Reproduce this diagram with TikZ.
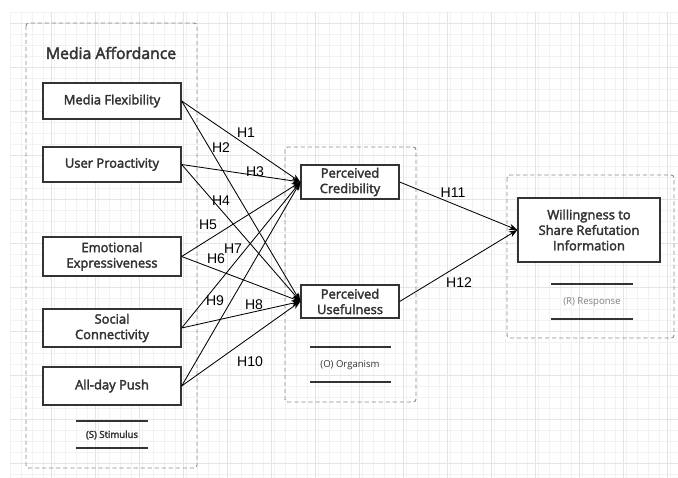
\documentclass[tikz,border=0pt]{standalone}
\usepackage{fontspec}
\setmainfont{Open Sans}
\newfontfamily\semibold{Open Sans}[FakeBold=2.6]
\newfontfamily\hfont{Liberation Sans}
\usetikzlibrary{positioning, arrows.meta, calc}

\definecolor{inkgray}{HTML}{333333}
\definecolor{dashgray}{HTML}{8C8C8C}
\definecolor{minorgrid}{HTML}{F2F2F2}
\definecolor{majorgrid}{HTML}{E4E4E4}

\begin{document}
\begin{tikzpicture}[x=0.025cm, y=-0.025cm,
	construct/.style={draw=inkgray, line width=0.9pt, fill=white, text=inkgray, font=\semibold\fontsize{9.2}{11}\selectfont, align=center, inner sep=0pt},
	stage/.style={draw=dashgray, dash pattern=on 3pt off 2pt, line width=0.7pt, rounded corners=2pt},
	hyp/.style={font=\hfont\fontsize{10}{12}\selectfont, text=black, inner sep=1pt},
	caption/.style={font=\fontsize{6.8}{8}\selectfont, text=inkgray},
	rule/.style={draw=inkgray, line width=0.9pt},
	path/.style={-{Stealth[length=6pt, width=4.5pt]}, line width=0.6pt, black}]
	\useasboundingbox (0,0) rectangle (678,478);
	% background grid
	\foreach \gx in {10,21,...,678} \draw[minorgrid, line width=0.5pt] (\gx,12) -- (\gx,478);
	\foreach \gy in {12,23,...,478} \draw[minorgrid, line width=0.5pt] (10,\gy) -- (678,\gy);
	\foreach \gx in {51,95,...,678} \draw[majorgrid, line width=0.6pt] (\gx,12) -- (\gx,478);
	\foreach \gy in {23,67,...,478} \draw[majorgrid, line width=0.6pt] (10,\gy) -- (678,\gy);

	% stage frames
	\draw[stage] (26,23) rectangle (197,468);
	\draw[stage] (285,147) rectangle (416,402);
	\draw[stage] (507,175) rectangle (674,338);

	\node[font=\semibold\fontsize{11.2}{13}\selectfont, text=inkgray] (affordance) at (111,53) {Media Affordance};

	% stimulus
	\node[construct, minimum width=3.45cm, minimum height=0.9cm] (flex) at (112,101) {Media Flexibility};
	\node[construct, minimum width=3.45cm, minimum height=0.875cm] (proact) at (112,164.5) {User Proactivity};
	\node[construct, minimum width=3.45cm, minimum height=0.975cm] (emot) at (112,256.5) {Emotional\\Expressiveness};
	\node[construct, minimum width=3.45cm, minimum height=0.95cm] (social) at (112,328) {Social\\Connectivity};
	\node[construct, minimum width=3.45cm, minimum height=0.95cm] (push) at (112,386) {All-day Push};
	\draw[rule] (76,421) -- (148,421);
	\node[caption, font=\semibold\fontsize{6.8}{8}\selectfont] (stimulus) at (112,435) {(S) Stimulus};
	\draw[rule] (76,448) -- (148,448);

	% organism
	\node[construct, minimum width=2.45cm, minimum height=0.85cm] (cred) at (350,182) {Perceived\\Credibility};
	\node[construct, minimum width=2.45cm, minimum height=0.825cm] (useful) at (350,301.5) {Perceived\\Usefulness};
	\draw[rule] (310,347) -- (391,347);
	\node[caption] (organism) at (350,365) {(O) Organism};
	\draw[rule] (310,382) -- (391,382);

	% response
	\node[construct, minimum width=3.55cm, minimum height=1.6cm] (share) at (589,230) {Willingness to\\Share Refutation\\Information};
	\draw[rule] (551,284) -- (633,284);
	\node[caption, text=gray] (response) at (592,302) {(R) Response};
	\draw[rule] (551,319) -- (633,319);

	% hypotheses
	\draw[path] (flex.east) -- (cred.west);
	\draw[path] (flex.east) -- (useful.west);
	\draw[path] (proact.east) -- (cred.west);
	\draw[path] (proact.east) -- (useful.west);
	\draw[path] (emot.east) -- (cred.west);
	\draw[path] (emot.east) -- (useful.west);
	\draw[path] (social.east) -- (cred.west);
	\draw[path] (social.east) -- (useful.west);
	\draw[path] (push.east) -- (cred.west);
	\draw[path] (push.east) -- (useful.west);
	\draw[path] (cred.east) -- (share.west);
	\draw[path] (useful.east) -- (share.west);

	\node[hyp] (h1) at (246,133) {H1};
	\node[hyp] (h2) at (221,148) {H2};
	\node[hyp] (h3) at (255,172) {H3};
	\node[hyp] (h4) at (221,201) {H4};
	\node[hyp] (h5) at (208,225) {H5};
	\node[hyp] (h6) at (216,259) {H6};
	\node[hyp] (h7) at (233,249) {H7};
	\node[hyp] (h8) at (254,305) {H8};
	\node[hyp] (h9) at (215,301) {H9};
	\node[hyp] (h10) at (250,362) {H10};
	\node[hyp] (h11) at (453,193) {H11};
	\node[hyp] (h12) at (459,283) {H12};
\end{tikzpicture}
\end{document}
